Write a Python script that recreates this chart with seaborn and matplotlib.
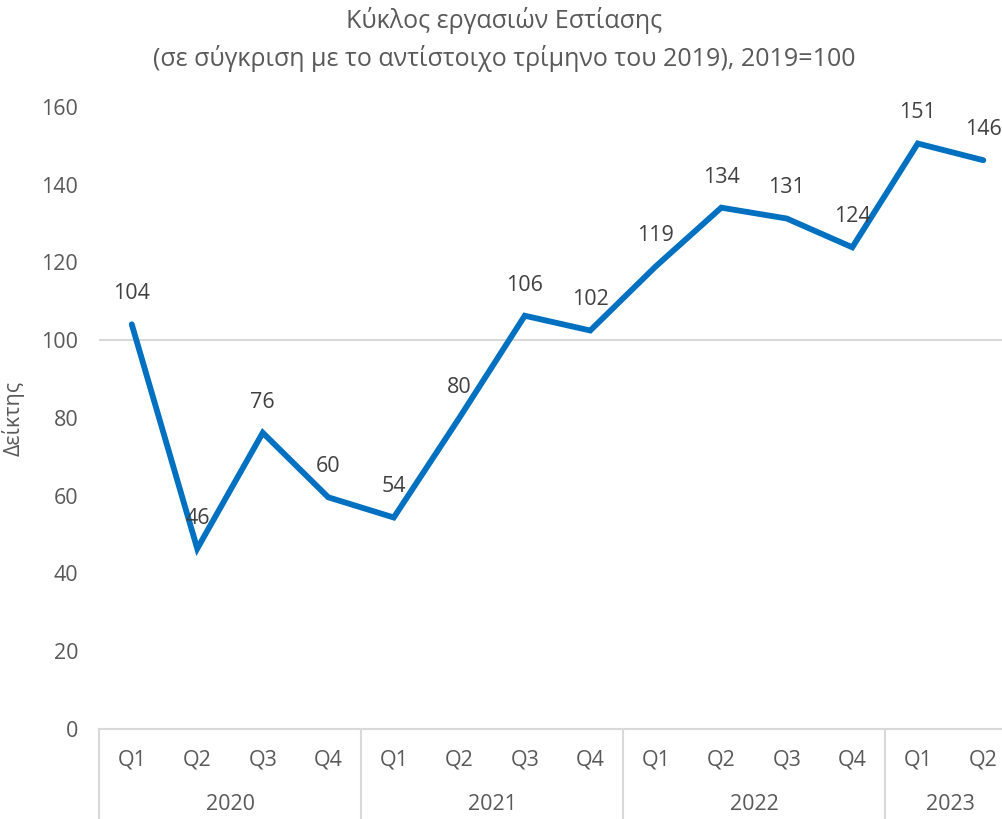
import matplotlib
matplotlib.use("Agg")
import matplotlib.pyplot as plt
import matplotlib.transforms as mtransforms
import seaborn as sns
import pandas as pd

# Quarterly turnover index for food service (2019 = 100)
years = ["2020", "2021", "2022", "2023"]
quarters_per_year = [4, 4, 4, 2]
quarter_labels = ["Q1", "Q2", "Q3", "Q4", "Q1", "Q2", "Q3", "Q4",
                  "Q1", "Q2", "Q3", "Q4", "Q1", "Q2"]
index_values = [104.1, 46.4, 76.2, 59.6, 54.4, 80.0, 106.3, 102.5,
                119.0, 134.1, 131.3, 123.9, 150.6, 146.3]

title = "Κύκλος εργασιών Εστίασης\n(σε σύγκριση με το αντίστοιχο τρίμηνο του 2019), 2019=100"
ylabel = "Δείκτης"

df = pd.DataFrame({"pos": range(len(index_values)), "value": index_values})

sns.set_theme(style="white")
plt.rcParams["font.family"] = ["Open Sans", "DejaVu Sans"]

line_color = "#0070C0"
tick_color = "#595959"
label_color = "#404040"
rule_color = "#D9D9D9"
fs = 15.5

fig = plt.figure(figsize=(10.03, 8.19), dpi=100)
ax = fig.add_axes([0.0987, 0.1099, 0.9143, 0.7595])

ax.axhline(100, color=rule_color, lw=1.5, zorder=1)
sns.lineplot(data=df, x="pos", y="value", color=line_color, lw=4.2,
             ax=ax, zorder=3, solid_joinstyle="miter")

for x, v in zip(df["pos"], df["value"]):
    ax.annotate(f"{v:.0f}", (x, v), xytext=(0, 22), textcoords="offset points",
                ha="center", va="center", fontsize=fs, color=label_color, zorder=4)

ax.set_xlim(-0.5, len(index_values) - 0.5)
ax.set_ylim(0, 160)
ax.set_yticks(range(0, 161, 20))
ax.tick_params(axis="y", length=0, pad=15, labelsize=fs, labelcolor=tick_color)
ax.set_xticks([])
ax.set_xlabel("")
ax.set_ylabel(ylabel, fontsize=fs, color=tick_color, labelpad=12)
for side in ["top", "right", "left"]:
    ax.spines[side].set_visible(False)
ax.spines["bottom"].set_color(rule_color)
ax.spines["bottom"].set_linewidth(1.5)

# two-level category axis
trans = mtransforms.blended_transform_factory(ax.transData, ax.transAxes)
axes_h_px = 0.7595 * 819
q_y = -31 / axes_h_px
yr_y = -76 / axes_h_px
sep_bottom = -95 / axes_h_px
for i, q in enumerate(quarter_labels):
    ax.text(i, q_y, q, transform=trans, ha="center", va="center",
            fontsize=fs, color=tick_color)
start = 0
for yr, n in zip(years, quarters_per_year):
    ax.plot([start - 0.5, start - 0.5], [0, sep_bottom], transform=trans,
            color=rule_color, lw=1.5, clip_on=False)
    ax.text(start + (n - 1) / 2, yr_y, yr, transform=trans, ha="center",
            va="center", fontsize=fs, color=tick_color)
    start += n

fig.text(0.503, 1 - 20 / 819, title.split("\n")[0], ha="center", va="center",
         fontsize=18, color=tick_color)
fig.text(0.503, 1 - 58 / 819, title.split("\n")[1], ha="center", va="center",
         fontsize=18, color=tick_color)

fig.savefig("out.png", dpi=100)
